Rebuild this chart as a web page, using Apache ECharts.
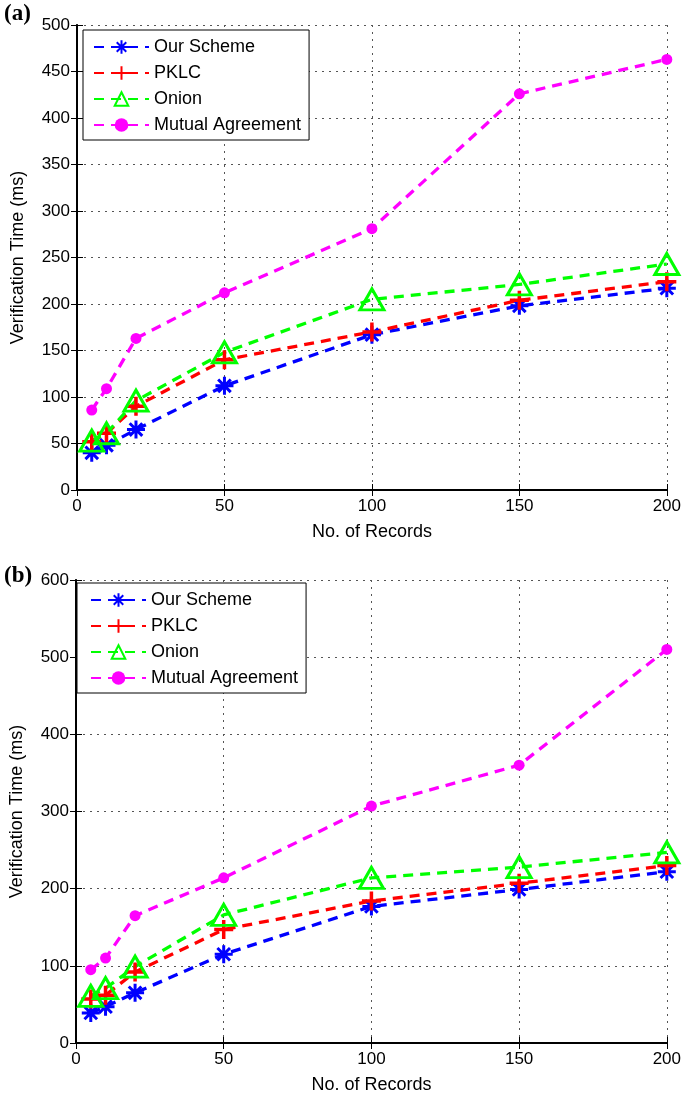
<!DOCTYPE html>
<html><head><meta charset="utf-8">
<title>Verification Time vs No. of Records</title>
<script src="https://cdn.jsdelivr.net/npm/echarts@6/dist/echarts.min.js"></script>
<style>
  html, body { margin: 0; padding: 0; background: #fff; }
  #chart { width: 684px; height: 1101px; }
</style>
</head>
<body>
<div id="chart"></div>
<script>
// x values (No. of Records)
var records = [5, 10, 20, 50, 100, 150, 200];
var seriesNames = ['Our Scheme', 'PKLC', 'Onion', 'Mutual Agreement'];

// panel (a)
var ourA    = [40, 48, 65, 112, 167, 198, 217];
var pklcA   = [52, 61, 90, 140, 170, 204, 224];
var onionA  = [53, 61, 96, 148, 205, 221, 243];
var mutualA = [86, 109, 163, 212, 281, 426, 463];

// panel (b)
var ourB    = [39, 47, 65, 115, 177, 199, 222];
var pklcB   = [57, 62, 92, 147, 184, 207, 230];
var onionB  = [61, 71, 99, 166, 214, 228, 247];
var mutualB = [95, 110, 165, 214, 307, 360, 510];

var FONT = 'Liberation Sans, Arial, Helvetica, sans-serif';
var ASTERISK = 'path://M10,0L10,20M0,10L20,10M3,3L17,17M3,17L17,3';
var PLUS = 'path://M10,0L10,20M0,10L20,10';

function pairs(ys){ return records.map(function(x, i){ return [x, ys[i]]; }); }

// marker look per series, MATLAB style
var looks = [
  {color: '#0000ff', symbol: ASTERISK, size: 18, fill: 'transparent', bw: 3},
  {color: '#ff0000', symbol: PLUS, size: 19, fill: 'transparent', bw: 3.5},
  {color: '#00ff00', symbol: 'triangle', size: [24, 21], fill: 'transparent', bw: 3},
  {color: '#ff00ff', symbol: 'circle', size: 11, fill: '#ff00ff', bw: 0}
];

function makeSeries(gi, data){
  return data.map(function(ys, k){
    var lk = looks[k];
    return {
      name: seriesNames[k], type: 'line',
      xAxisIndex: gi, yAxisIndex: gi,
      data: pairs(ys),
      symbol: lk.symbol, symbolSize: lk.size,
      itemStyle: {color: lk.fill, borderColor: lk.color, borderWidth: lk.bw},
      lineStyle: {color: lk.color, width: 3.3, type: [10, 7]},
      emphasis: {disabled: true},
      animation: false
    };
  });
}

function bottomX(gi){
  return {
    type: 'value', gridIndex: gi, min: 0, max: 200, interval: 50,
    name: 'No. of Records', nameLocation: 'middle', nameGap: 33,
    nameTextStyle: {fontFamily: FONT, fontSize: 18, color: '#000'},
    axisLine: {show: true, lineStyle: {color: '#000', width: 2}},
    axisTick: {inside: true, length: 6, lineStyle: {color: '#000'}},
    axisLabel: {fontFamily: FONT, fontSize: 17, color: '#000', margin: 8},
    splitLine: {show: true, lineStyle: {color: '#555', type: [2, 5]}}
  };
}
function topX(gi){
  return {
    type: 'value', gridIndex: gi, min: 0, max: 200, interval: 50, position: 'top',
    axisLine: {show: true, lineStyle: {color: '#000', width: 1.5}},
    axisTick: {inside: true, length: 6, lineStyle: {color: '#000'}},
    axisLabel: {show: false}, splitLine: {show: false}
  };
}
function leftY(gi, max, step){
  return {
    type: 'value', gridIndex: gi, min: 0, max: max, interval: step,
    name: 'Verification Time (ms)', nameLocation: 'middle', nameGap: 50,
    nameTextStyle: {fontFamily: FONT, fontSize: 18, color: '#000'},
    axisLine: {show: true, lineStyle: {color: '#000', width: 2}},
    axisTick: {show: true, inside: true, length: 6, lineStyle: {color: '#000'}},
    axisLabel: {fontFamily: FONT, fontSize: 17, color: '#000', margin: 7},
    splitLine: {show: true, lineStyle: {color: '#555', type: [2, 5]}}
  };
}
function rightY(gi, max, step){
  return {
    type: 'value', gridIndex: gi, min: 0, max: max, interval: step, position: 'right',
    axisLine: {show: true, lineStyle: {color: '#000', width: 1.5}},
    axisTick: {show: true, inside: true, length: 6, lineStyle: {color: '#000'}},
    axisLabel: {show: false}, splitLine: {show: false}
  };
}
function legendAt(left, top, padLeft, padTop){
  return {
    left: left, top: top, orient: 'vertical', data: seriesNames,
    backgroundColor: '#fff', borderColor: '#000', borderWidth: 1, borderRadius: 0,
    padding: [padTop, 8, 6, padLeft], itemWidth: 55, itemHeight: 17, itemGap: 8,
    textStyle: {fontFamily: FONT, fontSize: 18, color: '#000'},
    selectedMode: false
  };
}

var chart = echarts.init(document.getElementById('chart'), null, {renderer: 'canvas'});
chart.setOption({
  animation: false,
  backgroundColor: '#fff',
  title: [
    {text: '(a)', left: 4, top: 3, padding: 0,
     textStyle: {fontFamily: 'Liberation Serif, Times New Roman, serif', fontWeight: 'bold', fontSize: 23, color: '#000'}},
    {text: '(b)', left: 4, top: 565, padding: 0,
     textStyle: {fontFamily: 'Liberation Serif, Times New Roman, serif', fontWeight: 'bold', fontSize: 23, color: '#000'}}
  ],
  grid: [
    {left: 77, top: 25, width: 592, height: 465, containLabel: false},
    {left: 76, top: 580, width: 591, height: 463, containLabel: false}
  ],
  legend: [legendAt(83, 30, 10, 8), legendAt(77, 583, 13, 8)],
  xAxis: [bottomX(0), bottomX(1), topX(0), topX(1)],
  yAxis: [leftY(0, 500, 50), leftY(1, 600, 100), rightY(0, 500, 50), rightY(1, 600, 100)],
  series: makeSeries(0, [ourA, pklcA, onionA, mutualA])
    .concat(makeSeries(1, [ourB, pklcB, onionB, mutualB]))
});
</script>
</body></html>
